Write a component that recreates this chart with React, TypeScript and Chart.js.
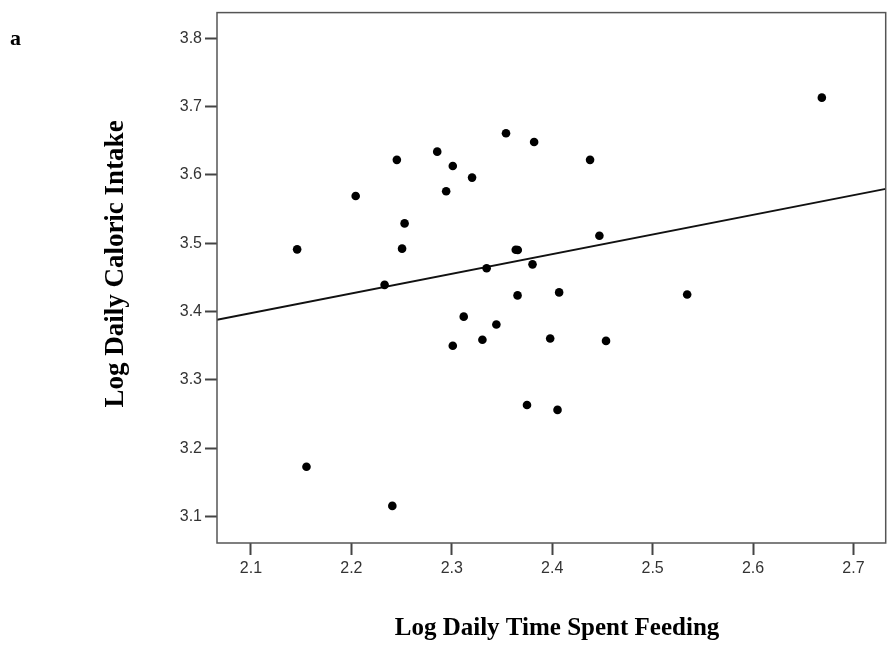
import React, { useEffect, useRef } from "react";
import { Chart, registerables } from "chart.js";

Chart.register(...registerables);

// Data (x: Log Daily Time Spent Feeding, y: Log Daily Caloric Intake)
const feedingTime = [
  2.146, 2.2043, 2.2453, 2.2855, 2.301, 2.3202, 2.2944, 2.253, 2.2505, 2.354,
  2.382, 2.4377, 2.3637, 2.3657, 2.447, 2.6685, 2.2331, 2.3347, 2.3804, 2.3655,
  2.4069, 2.5344, 2.3119, 2.3444, 2.301, 2.3305, 2.398, 2.4536, 2.3749, 2.4053,
  2.1553, 2.2408,
];
const caloricIntake = [
  3.491, 3.569, 3.622, 3.634, 3.613, 3.596, 3.576, 3.529, 3.492, 3.661,
  3.648, 3.622, 3.4905, 3.490, 3.511, 3.713, 3.439, 3.4633, 3.469, 3.4236,
  3.428, 3.425, 3.3925, 3.381, 3.350, 3.3587, 3.3606, 3.357, 3.2632, 3.256,
  3.1727, 3.1155,
];
// Fit line end points (at the axis limits)
const fitLineX = [2.0662, 2.7321];
const fitLineY = [3.388, 3.5795];

const xTickValues = [2.1, 2.2, 2.3, 2.4, 2.5, 2.6, 2.7];
const yTickValues = [3.1, 3.2, 3.3, 3.4, 3.5, 3.6, 3.7, 3.8];
const xRange = [2.0662, 2.7321];
const yRange = [3.0612, 3.8375];

const panelLabel = "a";
const xTitle = "Log Daily Time Spent Feeding";
const yTitle = "Log Daily Caloric Intake";

export default function App() {
  const canvasRef = useRef<HTMLCanvasElement | null>(null);

  useEffect(() => {
    const canvas = canvasRef.current;
    if (!canvas) return;

    const framePlugin = {
      id: "frameAndTitles",
      afterDraw(chart: any) {
        const { ctx, chartArea } = chart;
        ctx.save();
        ctx.strokeStyle = "#555555";
        ctx.lineWidth = 1.5;
        ctx.strokeRect(
          chartArea.left,
          chartArea.top,
          chartArea.right - chartArea.left,
          chartArea.bottom - chartArea.top
        );
        ctx.fillStyle = "#000000";
        // x title
        ctx.font = "bold 25px 'Liberation Serif', 'Times New Roman', serif";
        ctx.textAlign = "center";
        ctx.textBaseline = "alphabetic";
        ctx.fillText(xTitle, 557, 635);
        // y title
        ctx.save();
        ctx.translate(123, 264);
        ctx.rotate(-Math.PI / 2);
        ctx.font = "bold 27px 'Liberation Serif', 'Times New Roman', serif";
        ctx.textAlign = "center";
        ctx.fillText(yTitle, 0, 0);
        ctx.restore();
        // panel label
        ctx.font = "bold 22px 'Liberation Serif', 'Times New Roman', serif";
        ctx.textAlign = "left";
        ctx.fillText(panelLabel, 10, 45);
        ctx.restore();
      },
    };

    const chart = new Chart(canvas, {
      type: "scatter",
      data: {
        datasets: [
          {
            label: "points",
            data: feedingTime.map((x, i) => ({ x, y: caloricIntake[i] })),
            backgroundColor: "#000000",
            borderColor: "#000000",
            pointRadius: 4.3,
            pointBorderWidth: 0,
            showLine: false,
          },
          {
            label: "fit",
            data: fitLineX.map((x, i) => ({ x, y: fitLineY[i] })),
            showLine: true,
            borderColor: "#111111",
            borderWidth: 2,
            pointRadius: 0,
            fill: false,
          },
        ],
      },
      options: {
        responsive: false,
        animation: false,
        layout: { padding: { top: 8, right: 3, left: 0, bottom: 0 } },
        plugins: {
          legend: { display: false },
          tooltip: { enabled: false },
        },
        scales: {
          x: {
            type: "linear",
            min: xRange[0],
            max: xRange[1],
            afterBuildTicks: (scale: any) => {
              scale.ticks = xTickValues.map((v) => ({ value: v }));
            },
            afterFit: (scale: any) => {
              scale.height = 106;
            },
            grid: {
              drawOnChartArea: false,
              drawTicks: true,
              tickLength: 12,
              tickWidth: 2,
              tickColor: "#444444",
            },
            border: { display: false },
            ticks: {
              padding: 4,
              color: "#333333",
              font: { family: "'Liberation Sans', Arial, sans-serif", size: 16 },
              callback: (v: any) => Number(v).toFixed(1),
            },
          },
          y: {
            type: "linear",
            min: yRange[0],
            max: yRange[1],
            afterBuildTicks: (scale: any) => {
              scale.ticks = yTickValues.map((v) => ({ value: v }));
            },
            afterFit: (scale: any) => {
              scale.width = 217;
            },
            grid: {
              drawOnChartArea: false,
              drawTicks: true,
              tickLength: 12,
              tickWidth: 2,
              tickColor: "#444444",
            },
            border: { display: false },
            ticks: {
              padding: 3,
              color: "#333333",
              font: { family: "'Liberation Sans', Arial, sans-serif", size: 16 },
              callback: (v: any) => Number(v).toFixed(1),
            },
          },
        },
      },
      plugins: [framePlugin],
    });

    return () => chart.destroy();
  }, []);

  return (
    <div style={{ position: "absolute", left: 0, top: 0, width: 890, height: 649, background: "#ffffff" }}>
      <canvas ref={canvasRef} width={890} height={649} style={{ display: "block", width: 890, height: 649 }} />
    </div>
  );
}
